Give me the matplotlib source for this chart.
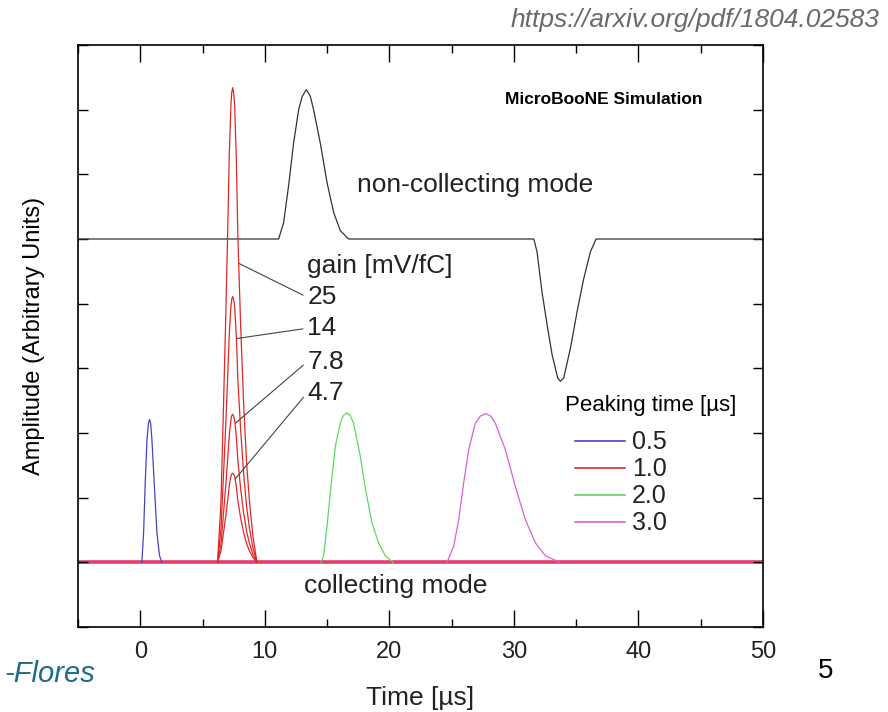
import numpy as np
import matplotlib.pyplot as plt
from matplotlib.ticker import MultipleLocator

# pulse shapes (time in us, amplitude in arbitrary units)
blue_t = [0.13, 0.27, 0.40, 0.54, 0.66, 0.75, 0.84, 0.94, 1.12, 1.34, 1.55, 1.74]
blue_a = [0.0, 0.46, 1.23, 1.89, 2.15, 2.21, 2.14, 1.89, 1.23, 0.46, 0.10, 0.0]

# 1.0 us shaping, amplitude per unit gain (taken from the 25 mV/fC pulse)
red_t = [6.21, 6.48, 6.69, 6.85, 7.01, 7.15, 7.28, 7.35, 7.42, 7.50, 7.58, 7.72, 7.84, 8.06, 8.30, 8.55, 8.78, 9.05, 9.37]
red_a = [0.0, 0.92, 2.46, 3.67, 5.02, 6.30, 7.07, 7.27, 7.34, 7.26, 7.07, 6.20, 5.02, 3.67, 2.46, 1.50, 0.92, 0.40, 0.0]
gains = [25, 14, 7.8, 4.7]

green_t = [14.50, 14.72, 15.00, 15.30, 15.66, 16.06, 16.30, 16.60, 16.87, 17.13, 17.67, 18.07, 18.60, 19.14, 19.68, 20.30]
green_a = [0.0, 0.10, 0.56, 1.15, 1.79, 2.15, 2.27, 2.31, 2.27, 2.15, 1.64, 1.15, 0.61, 0.30, 0.10, 0.0]

magenta_t = [24.63, 25.17, 25.57, 25.97, 26.37, 26.90, 27.30, 27.76, 28.15, 28.51, 29.32, 30.12, 30.92, 31.73, 32.53, 33.70]
magenta_a = [0.0, 0.25, 0.66, 1.23, 1.74, 2.15, 2.26, 2.30, 2.26, 2.15, 1.74, 1.17, 0.66, 0.30, 0.10, 0.0]

# induction (non-collecting) wire response, drawn on an offset baseline
black_t = [-5.0, 11.11, 11.51, 11.91, 12.31, 12.72, 13.00, 13.33, 13.65, 13.92, 14.46, 15.00, 15.53, 16.06, 16.73,
           31.60, 31.86, 32.26, 32.67, 33.07, 33.52, 33.73, 34.00, 34.54, 35.07, 35.60, 36.14, 36.60, 50.0]
black_a = [0.0, 0.0, 0.25, 0.82, 1.48, 2.00, 2.20, 2.31, 2.21, 2.00, 1.48, 0.87, 0.41, 0.13, 0.0,
           0.0, -0.20, -0.82, -1.33, -1.79, -2.15, -2.20, -2.15, -1.69, -1.13, -0.62, -0.20, 0.0, 0.0]
black_offset = 5.0

peaking_labels = ['0.5', '1.0', '2.0', '3.0']
colors = ['#4545c0', '#e02828', '#5fd85f', '#d860d8']

plt.rcParams['font.family'] = ['Liberation Sans', 'DejaVu Sans']
txt = '#222222'

fig = plt.figure(figsize=(8.88, 7.12), dpi=100)
ax = fig.add_axes([0.0878, 0.1194, 0.7714, 0.8174])

# collecting-mode baseline
ax.axhline(0, color='#e23c70', lw=2.6, zorder=1)

ax.plot(black_t, np.array(black_a) + black_offset, color='#333333', lw=0.9, zorder=2)
ax.plot(blue_t, blue_a, color=colors[0], lw=0.9, zorder=3)
for g in gains:
    ax.plot(red_t, np.array(red_a) * g / gains[0], color=colors[1], lw=0.9, zorder=3)
ax.plot(green_t, green_a, color=colors[2], lw=0.9, zorder=3)
ax.plot(magenta_t, magenta_a, color=colors[3], lw=0.9, zorder=3)

# legend for the shaping times
ax.text(34.1, 2.43, 'Peaking time [\u00b5s]', fontsize=16, ha='left', va='center', color='black')
handles = [plt.Line2D([], [], color=c, lw=1.2) for c in colors]
leg = ax.legend(handles, peaking_labels, loc='upper left',
                bbox_to_anchor=(0.725, 0.338), frameon=False, fontsize=18,
                handlelength=2.0, handletextpad=0.3, labelspacing=0.12, borderpad=0.0,
                borderaxespad=0.0)
for t in leg.get_texts():
    t.set_color(txt)

# gain labels with leader lines to the 1.0 us pulses
ax.text(13.4, 4.58, 'gain [mV/fC]', fontsize=19, va='center', ha='left', color=txt)
label_y = [4.10, 3.62, 3.10, 2.62]
curve_pts = [(7.95, 4.62), (7.71, 3.46), (7.63, 2.15), (7.63, 1.29)]
for g, ly, pt in zip(gains, label_y, curve_pts):
    ax.annotate(f'{g:g}', xy=pt, xytext=(13.4, ly), fontsize=19, va='center', ha='left',
                color=txt,
                arrowprops=dict(arrowstyle='-', color='#444444', lw=0.8, shrinkA=1, shrinkB=0,
                                relpos=(0, 0.5)))

ax.text(26.9, 5.83, 'non-collecting mode', fontsize=19, ha='center', va='center', color=txt)
ax.text(20.5, -0.37, 'collecting mode', fontsize=19, ha='center', va='center', color=txt)
ax.text(37.2, 7.15, 'MicroBooNE Simulation', fontsize=12.5, fontweight='bold',
        ha='center', va='center', color='black')

ax.set_xlim(-5, 50)
ax.set_ylim(-1, 8)
ax.xaxis.set_major_locator(MultipleLocator(10))
ax.xaxis.set_minor_locator(MultipleLocator(5))
ax.yaxis.set_major_locator(MultipleLocator(1))
ax.tick_params(which='both', direction='in', top=True, right=True, width=1)
ax.tick_params(which='major', axis='x', length=12, pad=10, labelsize=17, labelcolor=txt)
ax.tick_params(which='minor', axis='x', length=6)
ax.tick_params(axis='y', length=7, labelleft=False)
for s in ax.spines.values():
    s.set_linewidth(1.2)

ax.set_xlabel('Time [\u00b5s]', fontsize=19, labelpad=17, color=txt)
ax.set_ylabel('Amplitude (Arbitrary Units)', fontsize=17, labelpad=24, color='black')

# slide decorations around the figure
fig.text(0.99, 0.972, 'https://arxiv.org/pdf/1804.02583', fontsize=19, style='italic',
         color='#6a6a6a', ha='right', va='center')
fig.text(0.107, 0.054, '-Flores', fontsize=21, style='italic', color='#1d6a8a',
         ha='right', va='center')
fig.text(0.93, 0.058, '5', fontsize=20, color='black', ha='center', va='center')

fig.savefig('out.png', dpi=100, facecolor='white')
